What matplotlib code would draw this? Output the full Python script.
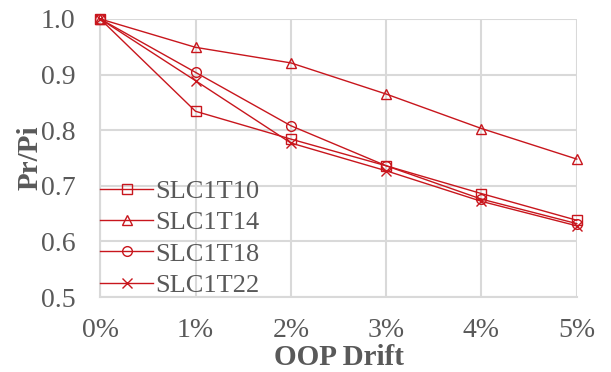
import matplotlib
matplotlib.use("Agg")
import matplotlib.pyplot as plt

# data
drift = [0, 1, 2, 3, 4, 5]
drift_labels = ["0%", "1%", "2%", "3%", "4%", "5%"]
slc1t10 = [1.0, 0.834, 0.784, 0.736, 0.686, 0.638]
slc1t14 = [1.0, 0.949, 0.921, 0.865, 0.803, 0.748]
slc1t18 = [1.0, 0.904, 0.808, 0.736, 0.676, 0.632]
slc1t22 = [1.0, 0.889, 0.777, 0.727, 0.672, 0.628]

series = [
    ("SLC1T10", slc1t10, "s"),
    ("SLC1T14", slc1t14, "^"),
    ("SLC1T18", slc1t18, "o"),
    ("SLC1T22", slc1t22, "x"),
]

plt.rcParams["font.family"] = ["Liberation Serif", "DejaVu Serif"]
red = "#C8161D"
text_gray = "#595959"
grid_gray = "#D9D9D9"

fig = plt.figure(figsize=(6.11, 3.72), dpi=100)
ax = fig.add_axes([0.164, 0.2016, 0.78, 0.7474])

for name, vals, mk in series:
    ax.plot(drift, vals, color=red, lw=1.0, marker=mk, markersize=7,
            markerfacecolor="none", markeredgecolor=red, markeredgewidth=1.0,
            label=name, clip_on=False, zorder=3)

ax.set_xlim(0, 5)
ax.set_ylim(0.5, 1.0)
ax.set_xticks(drift)
ax.set_xticklabels(drift_labels)
ax.set_yticks([0.5, 0.6, 0.7, 0.8, 0.9, 1.0])
ax.set_yticklabels(["0.5", "0.6", "0.7", "0.8", "0.9", "1.0"])
ax.tick_params(length=0, labelsize=20, colors=text_gray)
ax.tick_params(axis="y", pad=18)
ax.tick_params(axis="x", pad=15)

ax.grid(True, color=grid_gray, lw=1.5, zorder=0)
ax.set_axisbelow(True)
for s in ["top", "right"]:
    ax.spines[s].set_visible(False)
for s in ["left", "bottom"]:
    ax.spines[s].set_color(grid_gray)
    ax.spines[s].set_linewidth(1.5)

ax.set_xlabel("OOP Drift", fontsize=21, fontweight="bold", color=text_gray, labelpad=1)
ax.set_ylabel("Pr/Pi", fontsize=21, fontweight="bold", color=text_gray, labelpad=-2)

leg = ax.legend(loc="lower left", frameon=False, fontsize=19, labelcolor=text_gray,
                handlelength=2.0, handletextpad=0.1, labelspacing=0.3,
                borderaxespad=0.0, borderpad=0.0)

fig.savefig("out.png", dpi=100)
